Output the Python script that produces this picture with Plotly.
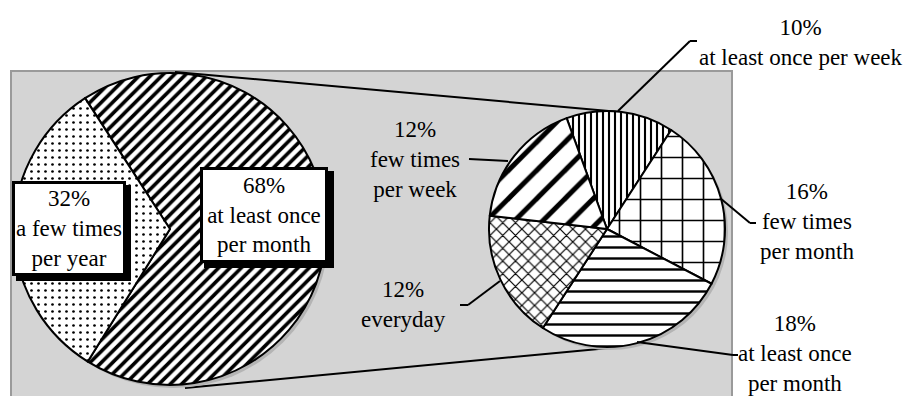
import plotly.graph_objects as go

W, H = 911, 396

# ---- data ----
main_labels = ["at least once per month", "a few times per year"]
main_values = [68, 32]
main_text = ["68%<br>at least once<br>per month", "32%<br>a few times<br>per year"]

sub_labels = ["at least once per week", "few times per month", "at least once per month",
              "everyday", "few times per week"]
sub_values = [10, 16, 18, 12, 12]
sub_text = ["10%<br>at least once per week", "16%<br>few times<br>per month",
            "18%<br>at least once<br>per month", "12%<br>everyday", "12%<br>few times<br>per week"]

FONT = "Liberation Serif"


def X(px):
    return px / W


def Y(py):
    return 1 - py / H


def dom(x0, y0, x1, y1):
    return dict(x=[X(x0), X(x1)], y=[Y(y1), Y(y0)])


fig = go.Figure()

# shadows
for d in (dom(17, 76, 329, 388), dom(492, 114, 728, 350)):
    fig.add_trace(go.Pie(values=[1], domain=d, marker=dict(colors=["#b4b4b4"], line=dict(width=0)),
                         textinfo="none", hoverinfo="skip", showlegend=False, sort=False))

# main pie
fig.add_trace(go.Pie(
    labels=main_labels, values=main_values, domain=dom(14, 73, 326, 385),
    sort=False, direction="clockwise", rotation=-33, textinfo="none", showlegend=False,
    marker=dict(colors=["white", "white"], line=dict(color="black", width=2),
                pattern=dict(shape=["/", "."], size=[8, 7], solidity=[0.45, 0.12],
                             fgcolor="black", bgcolor="white", fillmode="replace")),
))

# sub pie
fig.add_trace(go.Pie(
    labels=sub_labels, values=sub_values, domain=dom(489, 111, 725, 347),
    sort=False, direction="clockwise", rotation=-20, textinfo="none", showlegend=False,
    marker=dict(colors=["white"] * 5, line=dict(color="black", width=2),
                pattern=dict(shape=["|", "+", "-", "x", "/"], size=[6, 21, 11, 9, 20],
                             solidity=[0.35, 0.15, 0.22, 0.25, 0.25],
                             fgcolor="black", bgcolor="white", fillmode="replace")),
))

shapes = []
# grey panel
shapes.append(dict(type="rect", xref="paper", yref="paper", x0=X(11), x1=X(732), y0=Y(71), y1=-0.1,
                   fillcolor="#d4d4d4", line=dict(color="#9a9a9a", width=2), layer="below"))
# connectors
shapes.append(dict(type="line", xref="paper", yref="paper", x0=X(175), y0=Y(72), x1=X(620), y1=Y(112),
                   line=dict(color="black", width=2), layer="below"))
shapes.append(dict(type="line", xref="paper", yref="paper", x0=X(185), y0=Y(388), x1=X(620), y1=Y(347),
                   line=dict(color="black", width=2), layer="below"))

# leader lines (sub pie)
leaders = [
    [(618, 111), (690, 41), (697, 41)],
    [(469, 159), (508, 161)],
    [(460, 305), (468, 305), (500, 281)],
    [(720, 198), (750, 223), (756, 223)],
    [(637, 342), (733, 355), (738, 355)],
]
for pts in leaders:
    for (a, b), (c, d) in zip(pts[:-1], pts[1:]):
        shapes.append(dict(type="line", xref="paper", yref="paper", x0=X(a), y0=Y(b), x1=X(c), y1=Y(d),
                           line=dict(color="black", width=2), layer="above"))

# black drop for label boxes
shapes.append(dict(type="rect", xref="paper", yref="paper", x0=X(16), x1=X(131), y0=Y(185), y1=Y(281),
                   fillcolor="black", line=dict(width=0), layer="above"))
shapes.append(dict(type="rect", xref="paper", yref="paper", x0=X(204), x1=X(334), y0=Y(171), y1=Y(268),
                   fillcolor="black", line=dict(width=0), layer="above"))

annotations = []
# boxed labels for main pie
annotations.append(dict(text=main_text[1], x=X(69), y=Y(228.5), xref="paper", yref="paper",
                        xanchor="center", yanchor="middle", showarrow=False, width=108, height=89,
                        bgcolor="white", bordercolor="black", borderwidth=3, borderpad=0,
                        font=dict(family=FONT, size=23, color="black")))
annotations.append(dict(text=main_text[0], x=X(264), y=Y(215), xref="paper", yref="paper",
                        xanchor="center", yanchor="middle", showarrow=False, width=122, height=90,
                        bgcolor="white", bordercolor="black", borderwidth=3, borderpad=0,
                        font=dict(family=FONT, size=23, color="black")))

sub_pos = [(801, 42), (807, 222), (795, 353), (403, 304), (415, 159)]
for t, (px, py) in zip(sub_text, sub_pos):
    annotations.append(dict(text=t, x=X(px), y=Y(py), xref="paper", yref="paper",
                            xanchor="center", yanchor="middle", showarrow=False,
                            font=dict(family=FONT, size=23, color="black")))

fig.update_layout(
    width=W, height=H, margin=dict(l=0, r=0, t=0, b=0),
    paper_bgcolor="white", plot_bgcolor="white", showlegend=False,
    shapes=shapes, annotations=annotations,
)

fig.write_html("out.html")
